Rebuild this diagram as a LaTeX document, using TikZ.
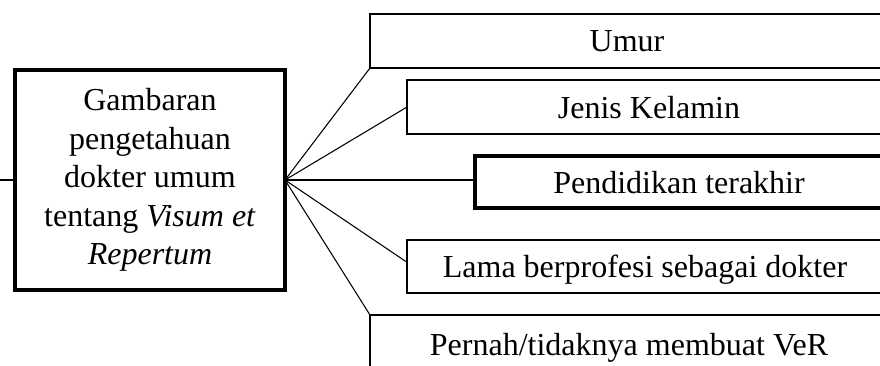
\documentclass[tikz,border=0pt]{standalone}
\usepackage{fontspec}
\setmainfont{Liberation Serif}
\usetikzlibrary{calc}
\begin{document}
\begin{tikzpicture}[x=0.75pt,y=-0.75pt,
  txt/.style={font=\fontsize{24}{28.8}\selectfont},
  box/.style={draw, rectangle, line width=1.5pt, inner sep=0pt, outer sep=0pt, anchor=north west, minimum width=397.5pt, minimum height=40.5pt},
  thickbox/.style={box, line width=2.6pt},
  lbl/.style={txt, inner sep=0pt, anchor=base},
  link/.style={line width=0.8pt}]
\useasboundingbox (0,0) rectangle (880,365);
\clip (0,0) rectangle (880,365);
% main box
\node[draw, rectangle, line width=2.6pt, txt, align=center, inner sep=0pt, outer sep=0pt,
      minimum width=202.5pt, minimum height=165pt] (lbox) at (150,180)
  {Gambaran\\pengetahuan\\dokter umum\\tentang \textit{Visum et}\\\textit{Repertum}};
\coordinate (stub) at (0,180);
% factor boxes
\node[box] (umur) at (370,14) {};
\node[box] (jenis) at (407,80) {};
\node[thickbox, minimum height=39pt] (pend) at (475,156) {};
\node[box, minimum height=39.75pt] (lama) at (407,240) {};
\node[box, minimum height=60pt] (pernah) at (370,315) {};
% labels
\node[lbl] (tumur) at (627,51.5) {Umur};
\node[lbl] (tjenis) at (649,118) {Jenis Kelamin};
\node[lbl] (tpend) at (679,193) {Pendidikan terakhir};
\node[lbl] (tlama) at (645,277.5) {Lama berprofesi sebagai dokter};
\node[lbl] (tpernah) at (629,355) {Pernah/tidaknya membuat VeR};
% connectors
\draw[link] (stub) -- (lbox.west);
\draw[link] (lbox.east) -- (umur.south west);
\draw[link] (lbox.east) -- (jenis.west);
\draw[link] (lbox.east) -- (lbox.east -| pend.west);
\draw[link] (lbox.east) -- ($(lama.north west)!0.42!(lama.south west)$);
\draw[link] (lbox.east) -- (pernah.north west);
\end{tikzpicture}
\end{document}
